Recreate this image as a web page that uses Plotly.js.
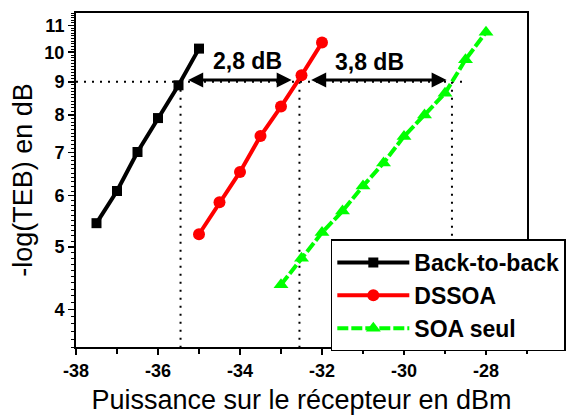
<!DOCTYPE html>
<html>
<head>
<meta charset="utf-8">
<script src="https://cdn.plot.ly/plotly-3.0.1.min.js"></script>
<style>html,body{margin:0;padding:0;background:#fff;}#chart{width:568px;height:415px;}</style>
</head>
<body>
<div id="chart"></div>
<script>
// Data
const b2bX = [-37.5, -37.0, -36.5, -36.0, -35.5, -35.0];
const b2bY = [5.44, 6.10, 7.01, 7.91, 8.89, 10.13];
const dssoaX = [-35.0, -34.5, -34.0, -33.5, -33.0, -32.5, -32.0];
const dssoaY = [5.23, 5.86, 6.53, 7.42, 8.24, 9.21, 10.35];
const soaX = [-33.0, -32.5, -32.0, -31.5, -31.0, -30.5, -30.0, -29.5, -29.0, -28.5, -28.0];
const soaY = [4.37, 4.80, 5.26, 5.68, 6.21, 6.74, 7.41, 8.00, 8.64, 9.74, 10.74];
const seriesNames = ["Back-to-back", "DSSOA", "SOA seul"];
// Reference (dotted) lines at BER level 9
const refLevel = 9;
const refX = [-35.45, -32.55, -28.83];
const refHLineEnd = -28.45;
const gapLabels = ["2,8 dB", "3,8 dB"];
const gapLabelX = [-33.81, -30.85];
const gapLabelY = [9.68, 9.65];
const yTickVals = [4, 5, 6, 7, 8, 9, 10, 11];
const yTickText = ["4", "5", "6", "7", "8", "9", "10", "11"];
const xTickVals = [-38, -36, -34, -32, -30, -28];
const xTickText = ["-38", "-36", "-34", "-32", "-30", "-28"];

const yMin = 3.5, yMax = 11.5;
const font = "Arial, 'Liberation Sans', sans-serif";

const minorY = [];
for (let v = 3.5; v <= 11.5001; v += 0.1) {
  const r = Math.round(v * 10) / 10;
  if (Math.abs(r - Math.round(r)) > 1e-6) minorY.push(r);
}

const dotLine = {color: "black", width: 2, dash: "2px,6px"};
const traces = [
  {x: [-38, refHLineEnd], y: [refLevel, refLevel], mode: "lines", line: dotLine, showlegend: false, hoverinfo: "skip"},
  {x: [refX[0], refX[0]], y: [refLevel, yMin], mode: "lines", line: dotLine, showlegend: false, hoverinfo: "skip"},
  {x: [refX[1], refX[1]], y: [refLevel, yMin], mode: "lines", line: dotLine, showlegend: false, hoverinfo: "skip"},
  {x: [refX[2], refX[2]], y: [refLevel, yMin], mode: "lines", line: dotLine, showlegend: false, hoverinfo: "skip"},
  {x: b2bX, y: b2bY, name: seriesNames[0], mode: "lines+markers",
   line: {color: "black", width: 4}, marker: {symbol: "square", size: 10, color: "black"}},
  {x: dssoaX, y: dssoaY, name: seriesNames[1], mode: "lines+markers",
   line: {color: "#ff0000", width: 4}, marker: {symbol: "circle", size: 12, color: "#ff0000"}},
  {x: soaX, y: soaY, name: seriesNames[2], mode: "lines+markers",
   line: {color: "#00ff00", width: 4, dash: "11px,3px"}, marker: {symbol: "triangle-up", size: 13, color: "#00ff00"}}
];

const arrowY = Math.log10(9.06);
const layout = {
  width: 568, height: 415,
  margin: {l: 76, r: 41, t: 13, b: 68, autoexpand: false},
  paper_bgcolor: "white", plot_bgcolor: "white",
  font: {family: font, color: "black", size: 16},
  showlegend: true,
  legend: {
    x: 0.565, y: 0.322, xanchor: "left", yanchor: "top",
    bgcolor: "white", bordercolor: "black", borderwidth: 1.5,
    font: {family: font, size: 23, color: "black", weight: "bold"},
    itemwidth: 72, tracegroupgap: 0
  },
  xaxis: {
    range: [-38, -27], showgrid: false, zeroline: false,
    showline: true, linecolor: "black", linewidth: 2, mirror: true,
    ticks: "outside", ticklen: 6, tickwidth: 1.5, tickcolor: "black",
    tickvals: xTickVals, ticktext: xTickText,
    tickfont: {family: font, size: 18, color: "black", weight: "bold"},
    minor: {dtick: 1, tick0: -37, ticks: "outside", ticklen: 5, tickwidth: 1.5, tickcolor: "black", showgrid: false},
    title: {text: "Puissance sur le récepteur en dBm", font: {family: font, size: 27, color: "black"}, standoff: 13}
  },
  yaxis: {
    type: "log", range: [Math.log10(yMin), Math.log10(yMax)],
    showgrid: false, zeroline: false,
    showline: true, linecolor: "black", linewidth: 2, mirror: true,
    ticks: "outside", ticklen: 6, tickwidth: 1.5, tickcolor: "black",
    tickmode: "array", tickvals: yTickVals, ticktext: yTickText,
    tickfont: {family: font, size: 18, color: "black", weight: "bold"},
    minor: {tickmode: "array", tickvals: minorY, ticks: "outside", ticklen: 3, tickwidth: 1, tickcolor: "black", showgrid: false},
    title: {text: "-log(TEB) en dB", font: {family: font, size: 27, color: "black"}, standoff: 4}
  },
  annotations: [
    {x: -32.74, y: arrowY, ax: -35.30, ay: arrowY, xref: "x", yref: "y", axref: "x", ayref: "y",
     showarrow: true, arrowside: "end+start", arrowhead: 2, arrowsize: 1, arrowwidth: 3, arrowcolor: "black",
     standoff: 0, startstandoff: 0, text: ""},
    {x: -28.96, y: arrowY, ax: -32.30, ay: arrowY, xref: "x", yref: "y", axref: "x", ayref: "y",
     showarrow: true, arrowside: "end+start", arrowhead: 2, arrowsize: 1, arrowwidth: 3, arrowcolor: "black",
     standoff: 0, startstandoff: 0, text: ""},
    {x: gapLabelX[0], y: Math.log10(gapLabelY[0]), xref: "x", yref: "y", showarrow: false,
     text: "<b>" + gapLabels[0] + "</b>", font: {family: font, size: 23, color: "black"}},
    {x: gapLabelX[1], y: Math.log10(gapLabelY[1]), xref: "x", yref: "y", showarrow: false,
     text: "<b>" + gapLabels[1] + "</b>", font: {family: font, size: 23, color: "black"}}
  ]
};

Plotly.newPlot("chart", traces, layout, {displayModeBar: false, staticPlot: true});
</script>
</body>
</html>
